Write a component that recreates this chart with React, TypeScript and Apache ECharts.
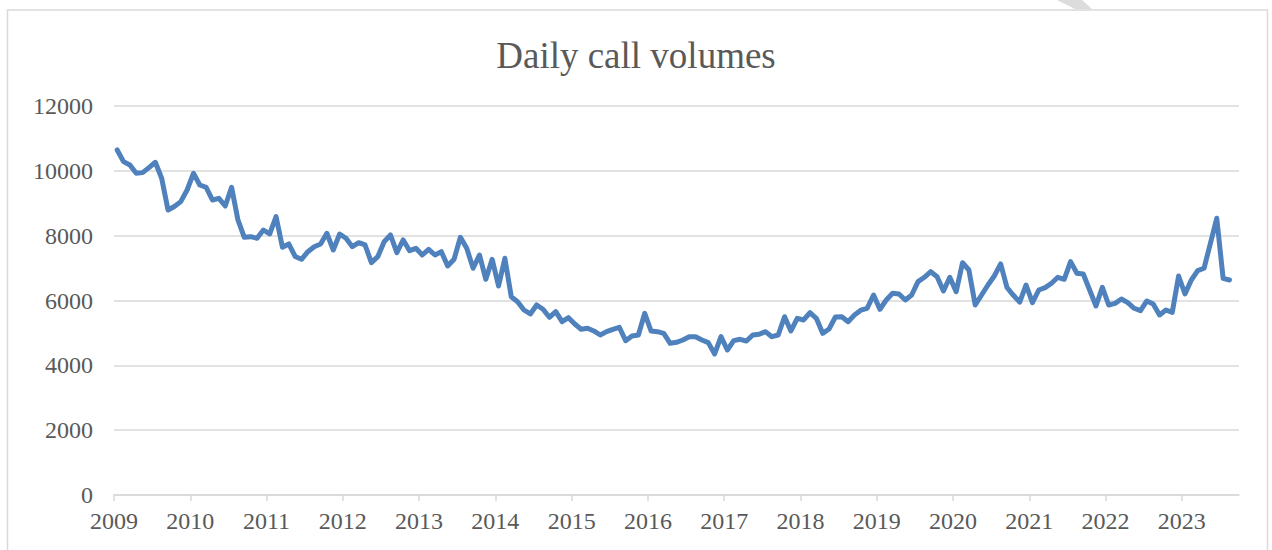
import React, { useEffect, useRef } from "react";
import * as echarts from "echarts";

const title = "Daily call volumes";
const startYear = 2009;
const yearTicks = ["2009","2010","2011","2012","2013","2014","2015","2016","2017","2018","2019","2020","2021","2022","2023"];
const yTicks = [0, 2000, 4000, 6000, 8000, 10000, 12000];

// Monthly values, Jan 2009 – Aug 2023
const callVolumes = [
  10643, 10283, 10180, 9925, 9945, 10100, 10264, 9770, 8792, 8900, 9050, 9409,
  9925, 9563, 9492, 9100, 9152, 8915, 9492, 8484, 7950, 7970, 7920, 8175,
  8052, 8586, 7642, 7744, 7360, 7272, 7505, 7660, 7744, 8073, 7558, 8052,
  7920, 7660, 7784, 7713, 7167, 7352, 7815, 8021, 7475, 7867, 7537, 7610,
  7404, 7580, 7404, 7506, 7065, 7271, 7950, 7610, 6994, 7404, 6654, 7271,
  6448, 7302, 6118, 5964, 5707, 5584, 5862, 5729, 5482, 5655, 5347, 5471,
  5276, 5112, 5143, 5060, 4936, 5039, 5112, 5174, 4761, 4905, 4936, 5605,
  5060, 5039, 4988, 4680, 4710, 4782, 4884, 4884, 4782, 4700, 4351, 4884,
  4474, 4761, 4803, 4751, 4936, 4957, 5039, 4884, 4936, 5500, 5060, 5450,
  5399, 5624, 5450, 4988, 5120, 5490, 5500, 5347, 5553, 5700, 5760, 6170,
  5729, 6016, 6222, 6200, 6016, 6170, 6581, 6716, 6889, 6735, 6293, 6716,
  6272, 7167, 6941, 5862, 6170, 6479, 6756, 7130, 6400, 6160, 5950, 6479,
  5933, 6324, 6396, 6531, 6716, 6654, 7198, 6839, 6818, 6324, 5831, 6408,
  5862, 5913, 6047, 5933, 5760, 5686, 5985, 5893, 5553, 5707, 5636, 6756,
  6201, 6633, 6920, 6994, 7765, 8536, 6685, 6633,
];

const months = callVolumes.map((_, i) => {
  const y = startYear + Math.floor(i / 12);
  const m = (i % 12) + 1;
  return `${y}-${m < 10 ? "0" + m : m}`;
});

export default function App() {
  const ref = useRef<HTMLDivElement>(null);
  useEffect(() => {
    if (!ref.current) return;
    const chart = echarts.init(ref.current, undefined, { renderer: "svg" });
    const seriesData = callVolumes.map((v, i) => [i + 0.5, v, months[i]]);
    const textColor = "#595959";
    const font = "'Liberation Serif', 'Times New Roman', serif";
    chart.setOption({
      animation: false,
      backgroundColor: "#ffffff",
      title: {
        text: title,
        left: "center",
        top: 32,
        textStyle: { fontFamily: font, fontSize: 37, fontWeight: "normal", color: textColor },
      },
      grid: { left: 114, right: 33, top: 106, bottom: 55, containLabel: false },
      xAxis: {
        type: "value",
        min: 0,
        max: 177,
        interval: 12,
        axisLine: { show: true, lineStyle: { color: "#d9d9d9", width: 1.5 } },
        axisTick: { show: true, length: 6, lineStyle: { color: "#d9d9d9", width: 1.5 } },
        splitLine: { show: false },
        axisLabel: {
          showMaxLabel: false,
          margin: 14,
          color: textColor,
          fontFamily: font,
          fontSize: 24,
          formatter: (v: number) => {
            const idx = Math.round(v / 12);
            return v % 12 === 0 && idx < yearTicks.length ? yearTicks[idx] : "";
          },
        },
      },
      yAxis: {
        type: "value",
        min: yTicks[0],
        max: yTicks[yTicks.length - 1],
        interval: 2000,
        axisLine: { show: false },
        axisTick: { show: false },
        splitLine: { show: true, lineStyle: { color: "#d9d9d9", width: 1.5 } },
        axisLabel: {
          margin: 21,
          color: textColor,
          fontFamily: font,
          fontSize: 24,
          formatter: (v: number) => String(v),
        },
      },
      series: [
        {
          type: "line",
          data: seriesData,
          showSymbol: false,
          symbol: "none",
          lineStyle: { color: "#4f81bd", width: 5, join: "round", cap: "round" },
          itemStyle: { color: "#4f81bd" },
        },
      ],
      graphic: [
        {
          type: "rect",
          shape: { x: 7.5, y: 10, width: 1260, height: 560 },
          style: { fill: "none", stroke: "#d9d9d9", lineWidth: 1.5 },
          silent: true,
        },
        {
          type: "polygon",
          shape: { points: [[1057, 0], [1082, 0], [1092, 9], [1075, 9]] },
          style: { fill: "#dcdcdc" },
          silent: true,
        },
      ],
    });
    return () => chart.dispose();
  }, []);
  return (
    <div
      ref={ref}
      style={{ position: "fixed", left: 0, top: 0, width: 1272, height: 550 }}
    />
  );
}
